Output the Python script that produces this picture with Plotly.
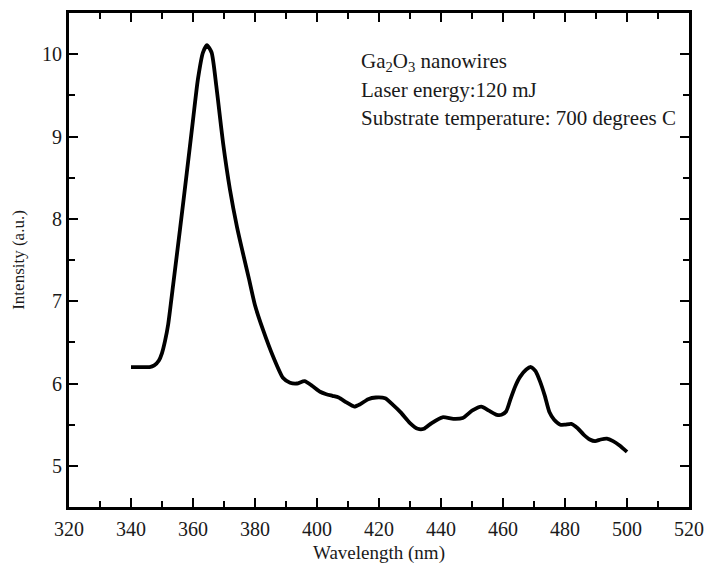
import plotly.graph_objects as go

wavelength = [340, 343, 346, 347.5, 349, 350, 351, 352, 353.6, 355.8, 358, 360, 361.6, 363.2,
              364.5, 366, 367.5, 368.5, 369.7, 371.9, 374.2, 376, 378, 380, 382.6, 385.8, 389,
              391.3, 393.5, 396, 398.5, 401, 403, 405, 407, 409.5, 412, 414, 416.5, 419, 422,
              424.5, 427, 430, 432.5, 434.5, 437, 440.5, 444, 447, 450, 453, 455.5, 458, 459.5,
              461, 462.5, 464, 465.5, 467.5, 469, 470.5, 472, 473.5, 475, 476.5, 478.5, 480,
              482, 484, 486, 488, 489.7, 491.5, 493.5, 495.5, 497.5, 500]
intensity = [6.20, 6.20, 6.20, 6.22, 6.28, 6.37, 6.52, 6.72, 7.20, 7.87, 8.56, 9.20, 9.70, 10.02,
             10.11, 10.02, 9.62, 9.30, 8.92, 8.36, 7.90, 7.60, 7.28, 6.95, 6.65, 6.33, 6.07,
             6.01, 6.00, 6.03, 5.97, 5.90, 5.87, 5.85, 5.83, 5.77, 5.72, 5.75, 5.81, 5.83, 5.82,
             5.74, 5.65, 5.52, 5.45, 5.45, 5.52, 5.59, 5.57, 5.58, 5.67, 5.72, 5.67, 5.62, 5.62,
             5.66, 5.82, 5.97, 6.08, 6.17, 6.20, 6.15, 6.02, 5.85, 5.65, 5.56, 5.50, 5.50,
             5.51, 5.46, 5.38, 5.32, 5.30, 5.32, 5.33, 5.30, 5.25, 5.17]

x_ticks = [320, 340, 360, 380, 400, 420, 440, 460, 480, 500, 520]
y_ticks = [5, 6, 7, 8, 9, 10]
notes = ["Ga<sub>2</sub>O<sub>3</sub> nanowires",
         "Laser energy:120 mJ",
         "Substrate temperature: 700 degrees C"]

FONT = "Liberation Serif, Times New Roman, serif"
TXT = "#1a1a1a"

fig = go.Figure()
fig.add_trace(go.Scatter(x=wavelength, y=intensity, mode="lines",
                         line=dict(color="black", width=3.8, shape="spline", smoothing=0.6),
                         showlegend=False, hoverinfo="skip"))

axis_common = dict(showline=True, linecolor="black", linewidth=3, mirror="allticks",
                   ticks="inside", ticklen=9, tickwidth=2.2, tickcolor="black",
                   showgrid=False, zeroline=False, automargin=False,
                   tickfont=dict(family=FONT, size=20, color=TXT))

fig.update_xaxes(range=[320, 520], tickvals=x_ticks, ticktext=[str(v) for v in x_ticks],
                 minor=dict(dtick=10, tick0=320, ticks="inside", ticklen=6, tickwidth=2.2,
                            tickcolor="black", showgrid=False),
                 ticklabelstandoff=2,
                 title=dict(text="Wavelength (nm)", font=dict(family=FONT, size=19, color=TXT),
                            standoff=7),
                 **axis_common)
fig.update_yaxes(range=[4.5, 10.5], tickvals=y_ticks, ticktext=[str(v) for v in y_ticks],
                 minor=dict(dtick=0.5, tick0=5, ticks="inside", ticklen=6, tickwidth=2.2,
                            tickcolor="black", showgrid=False),
                 title=dict(text="Intensity (a.u.)", font=dict(family=FONT, size=17, color=TXT),
                            standoff=14),
                 **axis_common)

ys = [0.900, 0.845, 0.788]
for txt, yy in zip(notes, ys):
    fig.add_annotation(text=txt, xref="paper", yref="paper", x=0.468, y=yy,
                       xanchor="left", yanchor="middle", showarrow=False,
                       font=dict(family=FONT, size=21, color=TXT))

fig.update_layout(width=706, height=571, margin=dict(l=69, r=17, t=13, b=64),
                  plot_bgcolor="white", paper_bgcolor="white")

fig.write_html("out.html")
